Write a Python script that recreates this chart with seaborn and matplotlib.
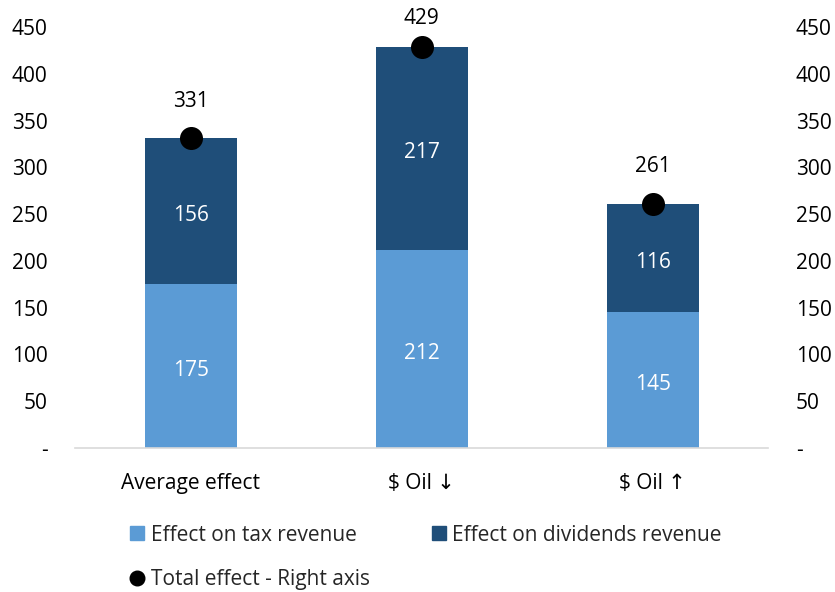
import matplotlib
matplotlib.use("Agg")
import pandas as pd
import seaborn as sns
import matplotlib.pyplot as plt
from matplotlib.lines import Line2D
from matplotlib.ticker import FixedLocator, FuncFormatter

sns.set_theme(style="white")
plt.rcParams['font.family'] = ['Open Sans', 'DejaVu Sans']

# Values
categories = ["Average effect", "$ Oil \u2193", "$ Oil \u2191"]
tax_revenue = [175, 212, 145]
dividends_revenue = [156, 217, 116]
total_effect = [331, 429, 261]

light = "#5B9BD5"
dark = "#1F4E79"
fs = 15

df = pd.DataFrame({
    "category": categories,
    "tax": tax_revenue,
    "div": dividends_revenue,
    "total": total_effect,
})
df["stack"] = df["tax"] + df["div"]

fig = plt.figure(figsize=(8.35, 5.92), dpi=100)
ax = fig.add_axes([0.0904, 0.2432, 0.8296, 0.7112])

# stacked bars: full stack in dark, tax part in light on top
sns.barplot(data=df, x="category", y="stack", color=dark, width=0.4,
            saturation=1, ax=ax, errorbar=None, linewidth=0)
sns.barplot(data=df, x="category", y="tax", color=light, width=0.4,
            saturation=1, ax=ax, errorbar=None, linewidth=0)

# segment labels
for i, row in df.iterrows():
    ax.annotate(str(row["tax"]), (i, row["tax"] / 2), xytext=(0, -3),
                textcoords="offset points", color="white",
                ha="center", va="center", fontsize=fs)
    ax.annotate(str(row["div"]), (i, row["tax"] + row["div"] / 2),
                xytext=(0, -3), textcoords="offset points", color="white",
                ha="center", va="center", fontsize=fs)

ax.set_ylim(0, 450)
ax.set_xlim(-0.5, 2.5)
ax.set(xlabel="", ylabel="")
sns.despine(ax=ax, left=True, right=True, top=True)
ax.spines["bottom"].set_color("#D9D9D9")
ax.spines["bottom"].set_linewidth(1.2)

fmt = FuncFormatter(lambda v, p: "-" if v == 0 else f"{int(v)}")
yticks = list(range(0, 451, 50))

# right axis with the totals
ax2 = ax.twinx()
ax2.set_ylim(0, 450)
sns.scatterplot(data=df, x="category", y="total", color="black", s=275,
                edgecolor="black", linewidth=0, ax=ax2, zorder=5,
                legend=False)
# labels sit ~37px above the dot, but stay inside the figure
for i, row in df.iterrows():
    _, ypix = ax2.transData.transform((i, row["total"]))
    off_px = min(37, 574 - ypix)
    ax2.annotate(str(row["total"]), (i, row["total"]),
                 xytext=(0, off_px * 72 / fig.dpi), textcoords="offset points",
                 ha="center", va="center", fontsize=fs, color="black")
ax2.set_xlim(-0.5, 2.5)
ax2.set(xlabel="", ylabel="")
for s in ax2.spines.values():
    s.set_visible(False)

for a in (ax, ax2):
    a.yaxis.set_major_locator(FixedLocator(yticks))
    a.yaxis.set_major_formatter(fmt)
    a.tick_params(axis="y", length=0, labelsize=fs, pad=20, colors="black")
    a.grid(False)
ax.tick_params(axis="x", length=0, labelsize=fs, pad=18, colors="black")
ax2.tick_params(axis="y", labelleft=False, labelright=True)

handles = [
    Line2D([], [], marker="s", linestyle="", color=light, markersize=9.5),
    Line2D([], [], marker="o", linestyle="", color="black", markersize=10.5),
    Line2D([], [], marker="s", linestyle="", color=dark, markersize=9.5),
]
labels = ["Effect on tax revenue", "Total effect - Right axis",
          "Effect on dividends revenue"]
fig.legend(handles, labels, ncol=2, loc="upper left",
           bbox_to_anchor=(0.157, 0.114), frameon=False,
           fontsize=fs, handlelength=0.6, handletextpad=0.35,
           columnspacing=3.0, labelspacing=1.15, borderaxespad=0,
           borderpad=0)

fig.savefig("out.png", dpi=100)
